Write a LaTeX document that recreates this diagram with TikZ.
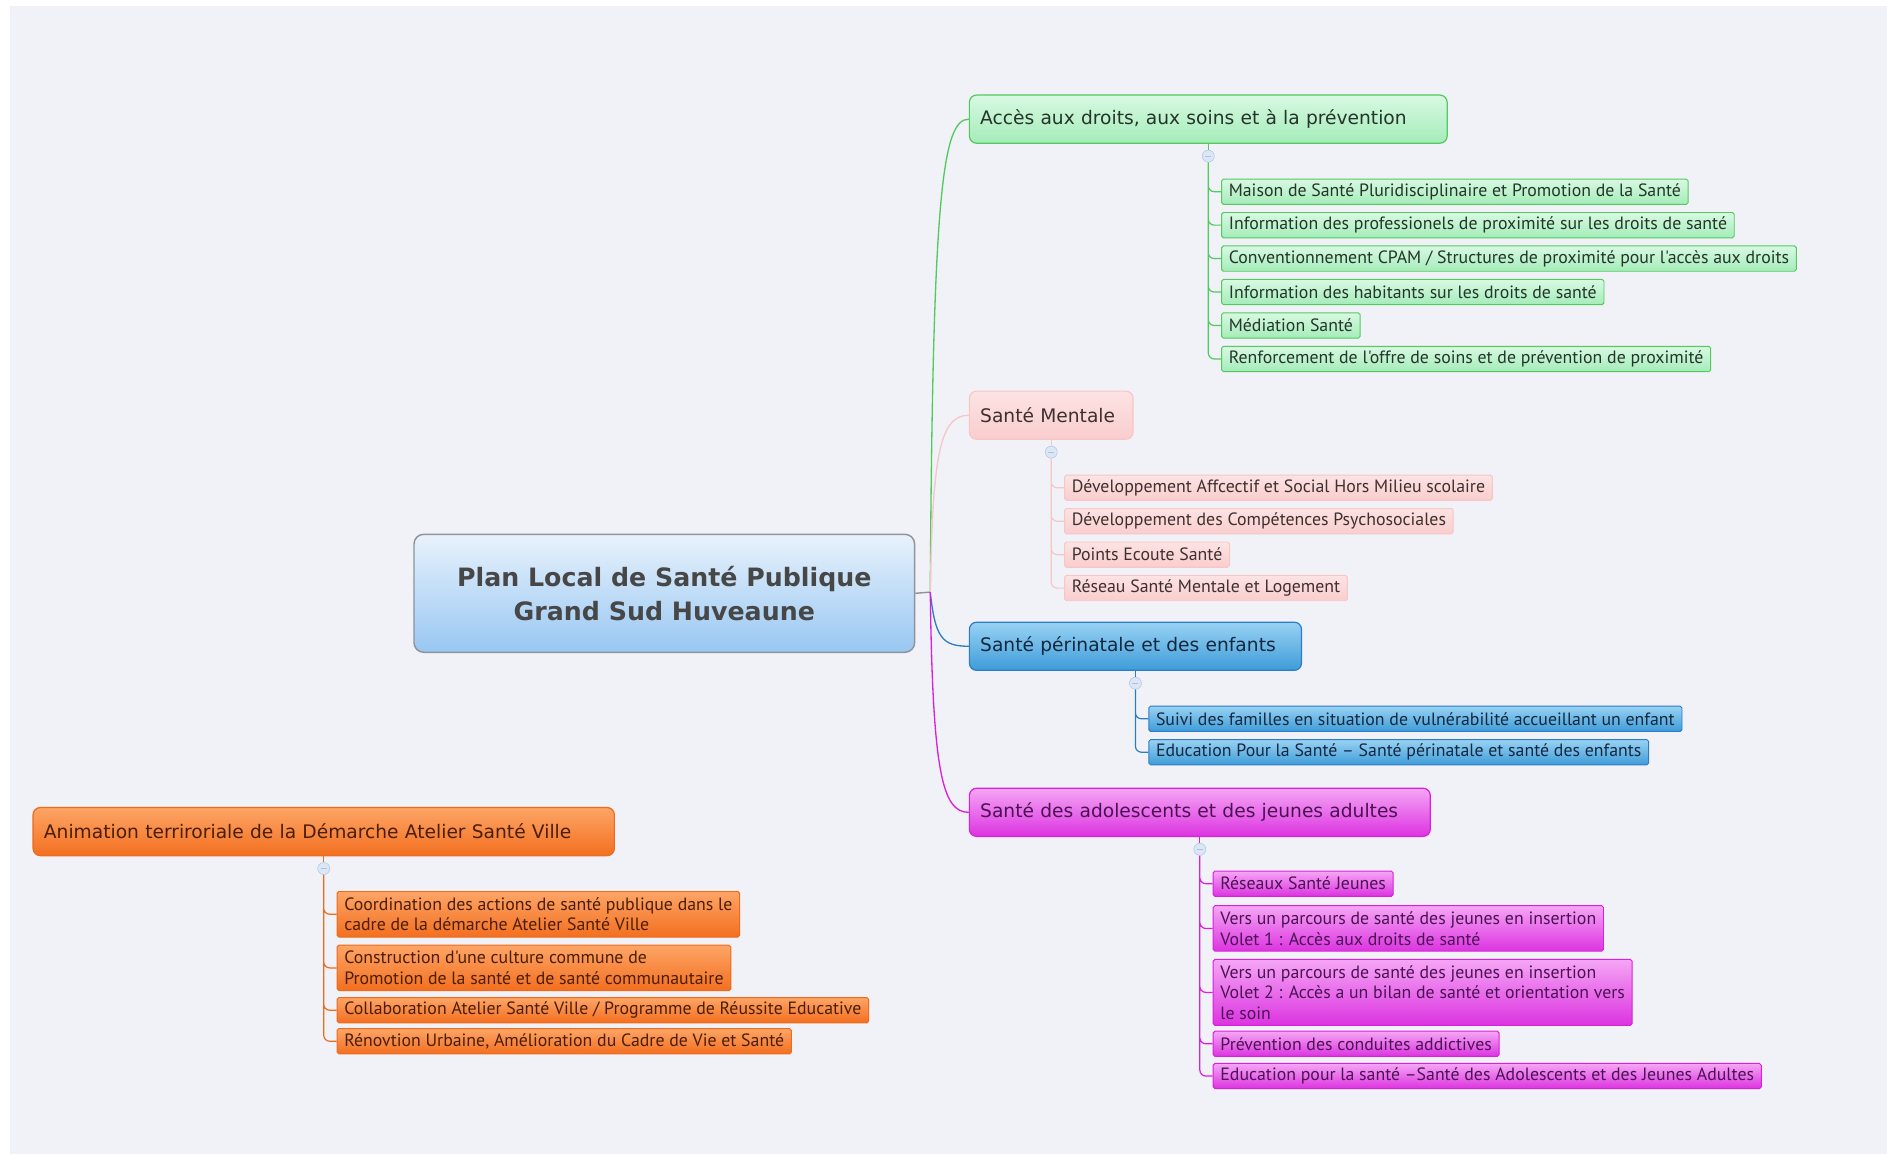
\documentclass[tikz,border=0pt]{standalone}
\usepackage{fontspec}
\setmainfont{DejaVu Sans}
\newfontfamily\leaffont{PT Sans}
\usepackage{tikz}
\usetikzlibrary{positioning}

\definecolor{bg}{HTML}{F1F2F7}
\definecolor{cenline}{HTML}{8E949B}
\definecolor{centop}{HTML}{E8F2FC}
\definecolor{cenbot}{HTML}{98C7F2}
\definecolor{grnline}{HTML}{52CA5E}
\definecolor{grntop}{HTML}{D8F9E2}
\definecolor{grnbot}{HTML}{A4ECB9}
\definecolor{grntxt}{HTML}{24352A}
\definecolor{pnkline}{HTML}{F7C6C6}
\definecolor{pnktop}{HTML}{FDE3E3}
\definecolor{pnkbot}{HTML}{F9CDCD}
\definecolor{pnktxt}{HTML}{3E3030}
\definecolor{bluline}{HTML}{2F7CC6}
\definecolor{blutop}{HTML}{98D2F3}
\definecolor{blubot}{HTML}{3E9CD8}
\definecolor{blutxt}{HTML}{142840}
\definecolor{magline}{HTML}{DB1FDD}
\definecolor{magtop}{HTML}{F5A6F5}
\definecolor{magbot}{HTML}{DC33E0}
\definecolor{magtxt}{HTML}{4A1253}
\definecolor{orgline}{HTML}{EE6A1C}
\definecolor{orgtop}{HTML}{FDA566}
\definecolor{orgbot}{HTML}{F36F1F}
\definecolor{orgtxt}{HTML}{4A1E08}
\definecolor{knobfill}{HTML}{DCE7F6}
\definecolor{knobline}{HTML}{A9C2E6}

\begin{document}
\begin{tikzpicture}[x=1pt, y=-1pt,
    rootbox/.style={draw=cenline, line width=1.2pt, rounded corners=8pt, top color=centop, bottom color=cenbot,
        minimum width=416pt, minimum height=98pt, align=center, text=black!72,
        font=\bfseries\fontsize{21}{28}\selectfont},
    topic/.style={draw=#1line, line width=1pt, rounded corners=6pt, top color=#1top, bottom color=#1bot,
        anchor=west, minimum height=40pt, inner xsep=9pt, align=left, text=#1txt,
        font=\fontsize{15.5}{18}\selectfont},
    leaf/.style={draw=#1line, line width=0.8pt, rounded corners=1.5pt, top color=#1top, bottom color=#1bot,
        minimum height=21pt, inner xsep=6pt, inner ysep=3pt, align=left, text=#1txt,
        font=\leaffont\fontsize{14.8}{17}\selectfont},
    tall/.style={inner ysep=5pt},
    knob/.style={circle, draw=knobline, fill=knobfill, minimum size=10pt, inner sep=0pt, below=5pt of #1,
        path picture={\draw[knobline, line width=0.8pt] ([xshift=-2.5pt]path picture bounding box.center)
            -- ([xshift=2.5pt]path picture bounding box.center);}},
    branch/.style={line width=1.1pt},
    twig/.style={line width=1pt, rounded corners=5pt}]

    % page and backdrop
    \useasboundingbox (0,0) rectangle (1568,959);
    \fill[white] (0,0) rectangle (1568,959);
    \fill[bg] (8,5) rectangle (1568,959);

    % central topic
    \node[rootbox] (plan) at (552,493) {Plan Local de Santé Publique\\Grand Sud Huveaune};
    \coordinate (hub) at (773,492);

    % main topics
    \node[topic=grn, text width=379pt] (acces) at (805,99) {Accès aux droits, aux soins et à la prévention};
    \node[topic=pnk, text width=118pt] (mentale) at (805,345) {Santé Mentale};
    \node[topic=blu, text width=258pt] (perinat) at (805,537) {Santé périnatale et des enfants};
    \node[topic=mag, text width=365pt] (ados) at (805,675) {Santé des adolescents et des jeunes adultes};
    \node[topic=org, text width=465pt] (asv) at (27,691) {Animation terriroriale de la Démarche Atelier Santé Ville};

    \node[knob=acces] (ka) {};
    \node[knob=mentale] (km) {};
    \node[knob=perinat] (kp) {};
    \node[knob=ados] (kj) {};
    \node[knob=asv] (ko) {};

    % Acces aux droits
    \node[leaf=grn, below right=15pt and 7pt of ka.south east] (a1) {Maison de Santé Pluridisciplinaire et Promotion de la Santé};
    \node[leaf=grn, below right=6pt and 0pt of a1.south west] (a2) {Information des professionels de proximité sur les droits de santé};
    \node[leaf=grn, below right=6pt and 0pt of a2.south west] (a3) {Conventionnement CPAM / Structures de proximité pour l'accès aux droits};
    \node[leaf=grn, below right=6pt and 0pt of a3.south west] (a4) {Information des habitants sur les droits de santé};
    \node[leaf=grn, below right=6pt and 0pt of a4.south west] (a5) {Médiation Santé};
    \node[leaf=grn, below right=6pt and 0pt of a5.south west] (a6) {Renforcement de l'offre de soins et de prévention de proximité};

    % Sante mentale
    \node[leaf=pnk, below right=15pt and 7pt of km.south east] (m1) {Développement Affcectif et Social Hors Milieu scolaire};
    \node[leaf=pnk, below right=6pt and 0pt of m1.south west] (m2) {Développement des Compétences Psychosociales};
    \node[leaf=pnk, below right=6pt and 0pt of m2.south west] (m3) {Points Ecoute Santé};
    \node[leaf=pnk, below right=6pt and 0pt of m3.south west] (m4) {Réseau Santé Mentale et Logement};

    % Perinatalite
    \node[leaf=blu, below right=15pt and 7pt of kp.south east] (p1) {Suivi des familles en situation de vulnérabilité accueillant un enfant};
    \node[leaf=blu, below right=6pt and 0pt of p1.south west] (p2) {Education Pour la Santé – Santé périnatale et santé des enfants};

    % Adolescents
    \node[leaf=mag, below right=14pt and 7pt of kj.south east] (j1) {Réseaux Santé Jeunes};
    \node[leaf=mag, tall, below right=7pt and 0pt of j1.south west] (j2) {Vers un parcours de santé des jeunes en insertion\\Volet 1 : Accès aux droits de santé};
    \node[leaf=mag, tall, below right=6pt and 0pt of j2.south west] (j3) {Vers un parcours de santé des jeunes en insertion\\Volet 2 : Accès a un bilan de santé et orientation vers\\le soin};
    \node[leaf=mag, below right=4pt and 0pt of j3.south west] (j4) {Prévention des conduites addictives};
    \node[leaf=mag, below right=5pt and 0pt of j4.south west] (j5) {Education pour la santé –Santé des Adolescents et des Jeunes Adultes};

    % Atelier Sante Ville
    \node[leaf=org, tall, below right=15pt and 7pt of ko.south east] (o1) {Coordination des actions de santé publique dans le\\cadre de la démarche Atelier Santé Ville};
    \node[leaf=org, tall, below right=6pt and 0pt of o1.south west] (o2) {Construction d'une culture commune de\\Promotion de la santé et de santé communautaire};
    \node[leaf=org, below right=5pt and 0pt of o2.south west] (o3) {Collaboration Atelier Santé Ville / Programme de Réussite Educative};
    \node[leaf=org, below right=4pt and 0pt of o3.south west] (o4) {Rénovtion Urbaine, Amélioration du Cadre de Vie et Santé};

    % branches from the centre
    \draw[cenline, line width=1.2pt] (plan.east) -- (hub);
    \draw[branch, grnline] (hub) .. controls +(2,-330) and +(-22,0) .. (acces.west);
    \draw[branch, pnkline] (hub) .. controls +(2,-110) and +(-25,0) .. (mentale.west);
    \draw[branch, bluline] (hub) .. controls +(4,38) and +(-22,0) .. (perinat.west);
    \draw[branch, magline] (hub) .. controls +(2,150) and +(-22,0) .. (ados.west);

    % topic to knob
    \draw[grnline, line width=1pt] (acces) -- (ka);
    \draw[pnkline, line width=1pt] (mentale) -- (km);
    \draw[bluline, line width=1pt] (perinat) -- (kp);
    \draw[magline, line width=1pt] (ados) -- (kj);
    \draw[orgline, line width=1pt] (asv) -- (ko);

    % knob to leaves
    \draw[twig, grnline] (ka.south) |- (a1.west) (ka.south) |- (a2.west) (ka.south) |- (a3.west)
        (ka.south) |- (a4.west) (ka.south) |- (a5.west) (ka.south) |- (a6.west);
    \draw[twig, pnkline] (km.south) |- (m1.west) (km.south) |- (m2.west) (km.south) |- (m3.west)
        (km.south) |- (m4.west);
    \draw[twig, bluline] (kp.south) |- (p1.west) (kp.south) |- (p2.west);
    \draw[twig, magline] (kj.south) |- (j1.west) (kj.south) |- (j2.west) (kj.south) |- (j3.west)
        (kj.south) |- (j4.west) (kj.south) |- (j5.west);
    \draw[twig, orgline] (ko.south) |- (o1.west) (ko.south) |- (o2.west) (ko.south) |- (o3.west)
        (ko.south) |- (o4.west);
\end{tikzpicture}
\end{document}
